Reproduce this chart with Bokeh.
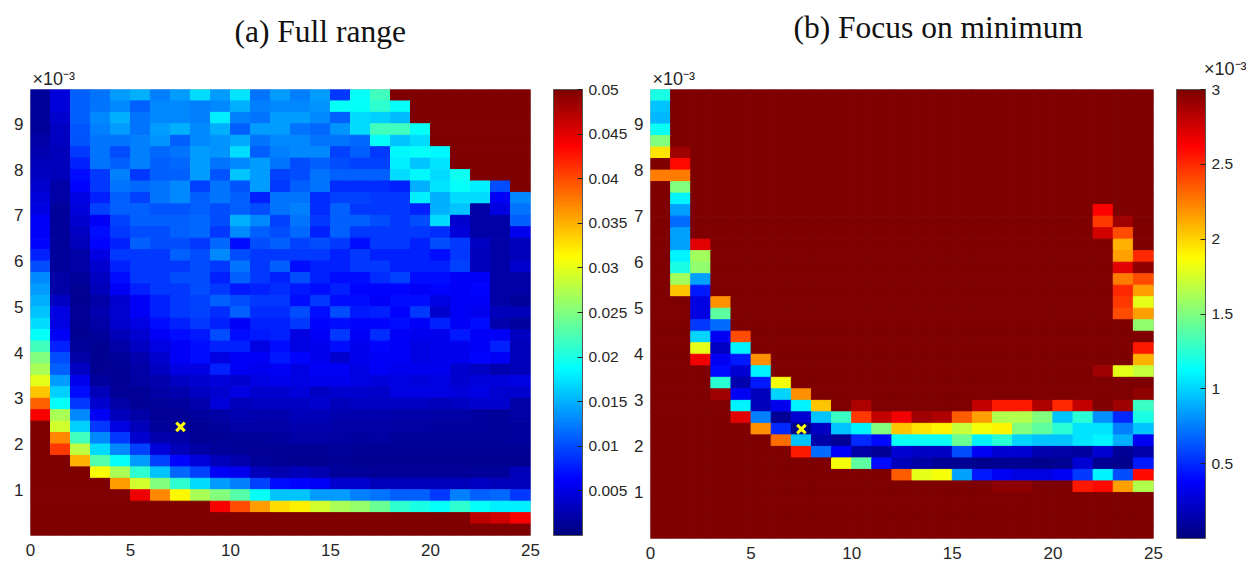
import numpy as np
from bokeh.embed import file_html
from bokeh.resources import INLINE
from bokeh.layouts import row
from bokeh.plotting import figure
from bokeh.models import (ColumnDataSource, LinearColorMapper, ColorBar, FixedTicker,
                          NumeralTickFormatter, Range1d, Title)

# Panel (a): colour values in units of 1e-3, top row first, 25 columns by 39 rows
S = 50
FULL_RANGE = [
 [1.5,4.5,11,12,14,15,12.5,14,17,14,17.5,12,14,12.5,14,9,19,22,S,S,S,S,S,S,S],
 [1.5,4.5,11,12,13,11,13,13,12.5,13,15,12.5,13,13,13.5,19,19,21,19,S,S,S,S,S,S],
 [1.5,4,11,13,15,12,13,13,12.5,18,12.5,12,14,14,13,11,17,16.5,15.5,S,S,S,S,S,S],
 [1.5,3.5,10.5,12.5,14,12,14,15,13,15,11,14,14,12,11.5,13.5,17,22,22,19,S,S,S,S,S],
 [2,3.5,10.5,12,12,12.5,13.5,11,13,13.5,14.5,12,13,13,12,12,11.5,19,16,17,S,S,S,S,S],
 [2.5,3,9,12,10,12.5,11.5,12,14,13.5,17,11,12.5,13,13,9.5,11,9,18.5,19,18.5,S,S,S,S],
 [3,3,8,12,11,12.5,11,11.5,14,12,13,14,12,10,11,10,9.5,9.5,18,16,17.5,S,S,S,S],
 [3.5,3,7,9,12.5,9,11,11,14,10.5,16,14,9.5,10,12,11,11,11,17,18.5,17,19.5,S,S,S],
 [4,2,6.5,9,12,11.5,12,13,9.5,12,10.5,14,9,11,12,8.5,8.5,8.5,8,15,17.5,19,18,10,S],
 [4.5,2,5,8,11,9.5,12,13,11,12,11,8,12,12,8.5,9.5,9.5,9,9,18,15,17,17,6,13],
 [5,1.5,4.5,9.5,11,11,10.5,10.5,11,10,11,10,12,12.5,8.5,11,9,9,9,8,15,16,2,5,12],
 [6,1.5,4,6,9.5,11,11,11,11.5,10,15,13,9.5,12,9,11,11,10,9,10,17,4,2,2,11],
 [6,1.5,3.5,7,9,10,10,11,11.5,9,13,11,10,11.5,8,11,9,9,9,9,8.5,4.5,2,2,5.5],
 [6.5,1.5,3,6.5,8,11,10,10,9,11.5,7,10,11,9.5,10,9,7,9,9,8,10,9,3.5,2,3],
 [8,1.5,2,5,9,9,9,11,10,13,10,9,9,9,9,8,9,8,8,8,7,9,3,2,3],
 [10,1.5,2,4,8,9,9,9,10,9,12,9,11,7,8,8,9,9,8,8,8,9.5,3,2,4],
 [13,2,1.5,3.5,7,9,9,10,10,8,11,9,8,10,8,7,7,8.5,9.5,7,7,6,6,2,2],
 [14,2,1,3,6,8,9,9,10,9,7.5,8,8.5,7.5,7,8,6.5,6.5,6.5,6,6.5,6,6.5,2,2],
 [15,3.5,1,2,4,6,8,9,9.5,11,10,9,9,7,9,7,7,6,7,7,5,6,6,2,1.5],
 [16,5,1.2,2.5,4,6,8,9,9.5,8.5,11,8.5,8.5,10,7,10,7.5,8,6.5,9,4,6,5.5,3,3],
 [17,5,1.2,2,4,5,7,8,9,8,6,8,8,9,6.5,7,6.5,6.5,7,6,8,6,7,2.5,1.7],
 [19,6,1,1.5,3,4,6,7,7.5,10,7,7.5,8,5,6,9,6,8.5,6,5.5,5.5,7.5,6,6,3.5],
 [22,8,1.5,1,2,3.5,5,6,7,8,8,5,7,5,5.5,7,5.5,6.5,6,5,5.5,5.5,6,8,3],
 [25,10,2,1,1.5,2.5,4,6,7,5,6,6,7.5,6.5,5.5,4,5.5,6,6,5,5.5,5.5,6.5,6,3],
 [27,11,3.5,1,1.3,2,3.5,5,5,8,6,5.5,6,5,6,6,5,6,5.5,5.5,5.5,4,3.5,2.5,3],
 [30,14,5.5,1.7,1.2,1.8,2.5,3.5,4,4.5,4,5,5.5,5,5.5,5.5,5,4.5,5,4.5,5,4,4.5,4.5,5],
 [34,16.5,7,3,1.2,1.3,2,2.5,3.5,4,5,4,4,4.5,3.5,4,4,3.8,5,5,5,4.5,5,4,4],
 [39,19,9,4,2,1.3,1.5,1.7,2.5,4.5,3,3.5,3.5,3.5,4,3,3.5,3.5,3.5,3.5,3,3.5,4,4,2],
 [44,27,13,6,3,2,1.2,1.3,1.7,2,2.7,2.5,2.5,3,3,2.5,2.5,2.5,2.2,2.2,2,2,1.7,1.5,2],
 [S,29,16.5,9,5,3,1.5,1,1.2,1.4,2,2,2,2.5,2.5,2,2,2,1.8,1.8,1.7,1.7,1.6,1.5,1.7],
 [S,37,22,13,9,4,2.5,2,1.2,1.2,1.4,1.5,1.7,2,2,1.8,1.6,1.8,1.5,1.5,1.5,1.5,1.5,1.5,1.6],
 [S,41,28,17,13,9.5,4.5,3,2,1.5,1.2,1.3,1.2,1.2,1.2,1.4,1.2,1.2,1.2,1.2,1.2,1.2,1.2,1.2,1.3],
 [S,S,35,23,19,14,9.5,6.5,4.5,3,2.5,1.5,1.2,1,1,1.2,1,1,1,1,1,1,1,1.1,1.1],
 [S,S,S,31,27,21,16,11.5,9.5,6,5.5,3,2.5,3,2.5,1.5,1.5,1.3,1.3,1.3,1.2,1.3,1.5,1.5,3],
 [S,S,S,S,36,29,25,21,17,14,12.5,9.5,7,6.5,6,4,4,3,3,3,3,3,3.5,3,3],
 [S,S,S,S,S,44.5,37,31.5,27,25,23,19,16,16,14,14,12.5,12,11,11,9,12.5,11,11.5,9],
 [S,S,S,S,S,S,S,S,S,44,40,36,33,32,29,27,26,24,21,20,19,21,19,18,18],
 [S,S,S,S,S,S,S,S,S,S,S,S,S,S,S,S,S,S,S,S,S,S,47,46,44],
 [S]*25,
]

# Panel (b): cells below the saturated value 3, in units of 1e-3: (row from top, first column, values)
FOCUS_CEILING = 3
FOCUS_BAND = [
 (0,0,[1.2]),(1,0,[.95]),(2,0,[.92]),(3,0,[1.15]),(4,0,[1.5]),(5,0,[1.95,2.9]),(6,1,[2.6]),
 (7,0,[2.25,2.25]),(8,1,[1.5]),(9,1,[1.1]),(10,1,[.85]),(10,22,[2.62]),(11,1,[.7]),
 (11,22,[2.45,2.9]),(12,1,[.85]),(12,22,[2.75,2.4]),(13,1,[.85,2.7]),(13,23,[2.1]),
 (14,1,[1.1,1.6]),(14,23,[2.15,2.5]),(15,1,[1.2,1.55]),(15,23,[2.7,2.95]),(16,1,[1.6,.85]),
 (16,23,[2.25,2.4]),(17,1,[2.05,.45]),(17,23,[2.5,2.15]),(18,2,[.3,2.2]),(18,23,[2.45,1.8]),
 (19,2,[.3,1.4]),(19,23,[2.4,2.15]),(20,2,[.55,.7]),(20,24,[1.55]),(21,2,[1.0,.35,2.4]),
 (22,2,[1.8,.2,1.1]),(22,24,[2.55]),(23,2,[2.65,.35,.45,2.2]),(23,24,[2.1]),(24,3,[.4,.25,1.1]),
 (24,22,[2.9,1.8,1.7]),(25,3,[1.25,.15,.45,1.85]),(26,3,[2.9,.35,.18,1.0,2.2]),(26,24,[2.95]),
 (27,4,[1.1,.18,.33,1.1,2.05]),(27,10,[2.85]),(27,16,[2.8,2.55,2.55,2.85,2.5,2.8,3,2.9,1.3]),
 (28,4,[2.7,.75,.08,.25,.95,1.3,2.45,2.8,2.65,2.9,2.85,2.35,2.15,1.65,1.65,1.5,.95,1.25,.8,.5,1.2]),
 (29,5,[2.2,.5,.03,.2,.95,1.1,1.5,2.05,1.95,1.9,1.7,1.85,1.9,1.5,1.4,1.25,1.05,1.05,.75,.95]),
 (30,6,[2.3,.95,.13,.08,.5,.4,1.15,1.15,1.15,1.45,1.1,1.25,1.0,.95,.95,1.05,1.1,.9,.35]),
 (31,7,[2.55,.7,.37,.12,.08,.25,.2,.2,.6,.35,.25,.25,.15,.12,.1,.25,.08,.13]),
 (32,9,[1.85,1.4,.4,.18,.12,.08,.07,.05,.06,.07,.05,.06,.25,.06,.05,.45]),
 (33,12,[2.35,1.8,1.85,.85,.45,.35,.3,.3,.35,.55,1.1,.6,2.6]),
 (34,17,[2.95,2.95]),(34,21,[2.55,2.6,2.15,1.65]),
]

MIN_X = [7.5]
MIN_Y = [2.375]
X_TICKS = [0, 5, 10, 15, 20, 25]
Y_TICKS = [1, 2, 3, 4, 5, 6, 7, 8, 9]
CB_TICKS_A = [0.005, 0.01, 0.015, 0.02, 0.025, 0.03, 0.035, 0.04, 0.045, 0.05]
CB_TICKS_B = [0.5, 1, 1.5, 2, 2.5, 3]
TITLE_A = "(a) Full range"
TITLE_B = "(b) Focus on minimum"
EXPONENT = "\u00d710\u207b\u00b3"

NY, NX, DY = 39, 25, 0.25


def jet_palette(n=256):
    out = []
    for t in np.linspace(0, 1, n):
        r = np.clip(min(4 * t - 1.5, -4 * t + 4.5), 0, 1)
        g = np.clip(min(4 * t - 0.5, -4 * t + 3.5), 0, 1)
        b = np.clip(min(4 * t + 0.5, -4 * t + 2.5), 0, 1)
        out.append("#%02x%02x%02x" % (int(r * 255), int(g * 255), int(b * 255)))
    return out


JET = jet_palette()
TEXT = "#262626"
SANS = "Liberation Sans"
BORDER_TOP = 130


def exponent_title(align, offset, standoff):
    return Title(text=EXPONENT, align=align, offset=offset, standoff=standoff,
                 text_font=SANS, text_font_size="18px", text_font_style="normal",
                 text_color=TEXT)


def panel(z, vmax, cb_ticks, cb_fmt, title, frame_w, frame_h, left, right, title_standoff, title_offset):
    z = np.asarray(z, dtype=float)
    cols, rows = np.meshgrid(np.arange(NX), np.arange(NY))
    src = ColumnDataSource(dict(
        x=(cols.ravel() + 0.5),
        y=(NY - rows.ravel() - 0.5) * DY,
        v=z.ravel(),
    ))
    mapper = LinearColorMapper(palette=JET, low=0, high=vmax)
    p = figure(height=606, output_backend="svg", toolbar_location=None,
               x_range=Range1d(0, NX), y_range=Range1d(0, NY * DY),
               frame_width=frame_w, frame_height=frame_h,
               min_border_left=left, min_border_top=BORDER_TOP, min_border_bottom=0, min_border_right=right,
               title=title, margin=(0, 0, 0, 0))
    p.title.text_font = "Liberation Serif"
    p.title.text_font_size = "31.5px"
    p.title.text_font_style = "normal"
    p.title.text_color = "#111111"
    p.title.align = "left"
    p.title.standoff = title_standoff
    p.title.offset = title_offset
    p.grid.visible = False
    p.rect("x", "y", width=1, height=DY, source=src,
           fill_color={"field": "v", "transform": mapper},
           line_color={"field": "v", "transform": mapper}, line_width=1)
    p.scatter(MIN_X, MIN_Y, marker="x", size=12, line_color="#ffff00", line_width=3)
    for ax, ticks in ((p.xaxis[0], X_TICKS), (p.yaxis[0], Y_TICKS)):
        ax.ticker = FixedTicker(ticks=ticks)
        ax.axis_line_color = None
        ax.major_tick_line_color = None
        ax.minor_tick_line_color = None
        ax.major_tick_out = 0
        ax.major_tick_in = 0
        ax.minor_tick_out = 0
        ax.minor_tick_in = 0
        ax.major_label_text_font = SANS
        ax.major_label_text_font_size = "17px"
        ax.major_label_text_color = TEXT
    p.xaxis[0].major_label_standoff = 8
    p.yaxis[0].major_label_standoff = 7
    p.outline_line_color = "#b8b8b8"
    p.outline_line_width = 1
    cb = ColorBar(color_mapper=mapper, ticker=FixedTicker(ticks=cb_ticks),
                  formatter=NumeralTickFormatter(format=cb_fmt),
                  width=29, height=frame_h, padding=0, margin=0, location=(23, 0),
                  major_tick_in=5, major_tick_out=0, major_tick_line_color="#222222",
                  minor_tick_line_color=None, bar_line_color="#555555",
                  major_label_text_font=SANS, major_label_text_font_size="15.5px",
                  major_label_text_color=TEXT, label_standoff=6)
    p.add_layout(cb, "right")
    return p


focus = np.full((NY, NX), float(FOCUS_CEILING))
for r, c, vals in FOCUS_BAND:
    for k, v in enumerate(vals):
        focus[r, c + k] = v

pa = panel(np.array(FULL_RANGE) * 1e-3, 0.05, CB_TICKS_A, "0.[000]", TITLE_A,
           500, 446, 22, 0, 35, 204)
pb = panel(focus, 3, CB_TICKS_B, "0.[0]", TITLE_B,
           503, 449, 20, 93, 44, 143)

pa.add_layout(exponent_title("left", 2, 1), "above")
pb.add_layout(exponent_title("left", 2, 1), "above")
pb.add_layout(exponent_title("right", -93, -25), "above")

layout = row(pa, pb, spacing=0, styles={"position": "absolute", "left": "8px", "top": "%dpx" % (89 - BORDER_TOP)})
open("out.html", "w").write(file_html(layout, INLINE))
